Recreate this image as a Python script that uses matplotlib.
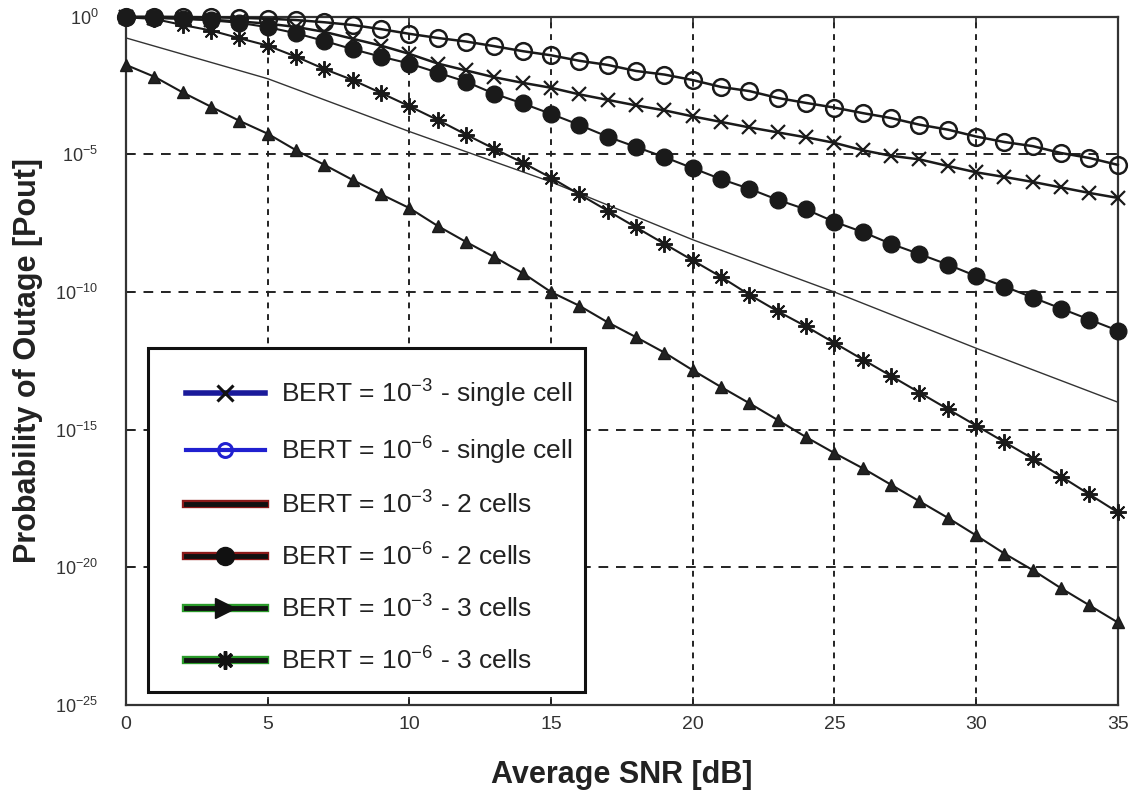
import numpy as np
import matplotlib
matplotlib.use("Agg")
import matplotlib.pyplot as plt
from matplotlib.lines import Line2D
from matplotlib.patches import Rectangle
from matplotlib.legend_handler import HandlerTuple

plt.rcParams['font.family'] = ['Liberation Sans', 'DejaVu Sans']

# average SNR [dB], one marker per dB
snr = np.arange(0, 36)

# log10 of outage probability
log_single_e3 = [-0.02, -0.04, -0.07, -0.11, -0.17, -0.25, -0.37, -0.55, -0.8, -1.05,
                 -1.35, -1.7, -1.95, -2.2, -2.4, -2.58, -2.82, -3.02, -3.22, -3.4,
                 -3.62, -3.82, -4.02, -4.2, -4.38, -4.58, -4.85, -5.05, -5.18, -5.42,
                 -5.65, -5.82, -6.0, -6.2, -6.4, -6.58]
log_single_e6 = [0.0, 0.0, -0.01, -0.02, -0.04, -0.07, -0.12, -0.2, -0.3, -0.45,
                 -0.62, -0.77, -0.9, -1.07, -1.25, -1.4, -1.6, -1.75, -1.97, -2.1,
                 -2.3, -2.55, -2.7, -2.95, -3.13, -3.3, -3.5, -3.68, -3.92, -4.1,
                 -4.35, -4.55, -4.7, -4.95, -5.13, -5.38]
snr_line = [0, 5, 10, 15, 20, 25, 30, 35]
log_two_e3 = [-0.77, -2.25, -4.17, -6.0, -8.1, -10.0, -12.04, -14.0]
log_two_e6 = [0.0, -0.03, -0.07, -0.13, -0.22, -0.38, -0.6, -0.88, -1.18, -1.45,
              -1.7, -2.03, -2.36, -2.8, -3.15, -3.53, -3.93, -4.36, -4.73, -5.1,
              -5.5, -5.9, -6.25, -6.65, -7.0, -7.45, -7.82, -8.25, -8.62, -9.0,
              -9.42, -9.8, -10.2, -10.6, -11.0, -11.4]
log_three_e3 = [-1.75, -2.18, -2.75, -3.27, -3.78, -4.25, -4.85, -5.38, -5.93, -6.45,
                -6.95, -7.6, -8.18, -8.73, -9.31, -10.0, -10.5, -11.1, -11.64, -12.2,
                -12.84, -13.45, -14.04, -14.65, -15.27, -15.85, -16.4, -17.0, -17.6, -18.2,
                -18.84, -19.5, -20.1, -20.76, -21.38, -22.0]
log_three_e6 = [-0.02, -0.08, -0.3, -0.5, -0.78, -1.05, -1.45, -1.9, -2.3, -2.77,
                -3.25, -3.75, -4.28, -4.8, -5.3, -5.85, -6.45, -7.05, -7.65, -8.25,
                -8.85, -9.45, -10.1, -10.7, -11.25, -11.85, -12.45, -13.05, -13.65, -14.25,
                -14.85, -15.45, -16.05, -16.7, -17.35, -18.0]

labels = [r'BERT = $\mathregular{10^{-3}}$ - single cell',
          r'BERT = $\mathregular{10^{-6}}$ - single cell',
          r'BERT = $\mathregular{10^{-3}}$ - 2 cells',
          r'BERT = $\mathregular{10^{-6}}$ - 2 cells',
          r'BERT = $\mathregular{10^{-3}}$ - 3 cells',
          r'BERT = $\mathregular{10^{-6}}$ - 3 cells']

xticks = [0, 5, 10, 15, 20, 25, 30, 35]
yticks = [1e0, 1e-5, 1e-10, 1e-15, 1e-20, 1e-25]
ytick_labels = [r'$\mathregular{10^{0}}$', r'$\mathregular{10^{-5}}$', r'$\mathregular{10^{-10}}$',
                r'$\mathregular{10^{-15}}$', r'$\mathregular{10^{-20}}$', r'$\mathregular{10^{-25}}$']

fig = plt.figure(figsize=(11.36, 7.98), dpi=100)
ax = fig.add_axes([0.111, 0.1165, 0.873, 0.8625])

star = (8, 2, 0)
kw = dict(color='#1a1a1a', clip_on=False, zorder=3)
ax.semilogy(snr, 10.0 ** np.array(log_single_e6), marker='o', ms=12, mfc='none', mew=1.8, lw=1.8, **kw)
ax.semilogy(snr, 10.0 ** np.array(log_single_e3), marker='x', ms=10, mew=1.6, lw=1.8, **kw)
ax.semilogy(snr_line, 10.0 ** np.array(log_two_e3), lw=1.0, color='#333333', clip_on=False, zorder=3)
ax.semilogy(snr, 10.0 ** np.array(log_two_e6), marker='o', ms=12, mfc='#1a1a1a', lw=1.5, **kw)
ax.semilogy(snr, 10.0 ** np.array(log_three_e6), marker=star, ms=12, mew=1.4, lw=1.5, **kw)
ax.semilogy(snr, 10.0 ** np.array(log_three_e3), marker='^', ms=9, mfc='#222222', lw=1.5, **kw)

ax.set_xlim(0, 35)
ax.set_ylim(1e-25, 1e0)
ax.set_xticks(xticks)
ax.set_yticks(yticks)
ax.set_yticklabels(ytick_labels)
ax.yaxis.set_minor_locator(matplotlib.ticker.NullLocator())
ax.tick_params(direction='in', top=True, right=True, length=6, width=1.2, colors='#222222')
ax.tick_params(axis='y', labelsize=13, pad=20, labelcolor='#333333')
ax.tick_params(axis='x', labelsize=14, pad=8, labelcolor='#333333')

ax.grid(True, axis='y', which='major', color='#222222', linestyle=(0, (5, 4)), lw=1.4)
ax.grid(True, axis='x', which='major', color='#222222', linestyle=(0, (3, 3)), lw=1.4)
for s in ax.spines.values():
    s.set_color('#333333')
    s.set_linewidth(1.6)

ax.set_xlabel('Average SNR [dB]', fontsize=22, fontweight='bold', color='#222222', va='center')
ax.set_ylabel('Probability of Outage [Pout]', fontsize=22, fontweight='bold', color='#222222', va='center')
ax.xaxis.set_label_coords(0.5, -0.102)
ax.yaxis.set_label_coords(-0.099, 0.5)

# legend: box drawn by hand, colours as in the original legend
ax.add_patch(Rectangle((0.022, 0.019), 0.441, 0.5, transform=ax.transAxes,
                       fc='white', ec='#111111', lw=2.2, zorder=6, clip_on=False))
red, green, blue = '#8b1a1a', '#2a9a2a', '#2020d0'
handles = [
    (Line2D([], [], color='#1a1a9a', lw=4), Line2D([], [], ls='none', marker='x', ms=12, mew=2.2, color='#111111')),
    (Line2D([], [], color=blue, lw=3, marker='o', ms=10, mfc='none', mew=2.2),),
    (Line2D([], [], color=red, lw=6), Line2D([], [], color='#111111', lw=3.5)),
    (Line2D([], [], color=red, lw=6), Line2D([], [], color='#111111', lw=3.5, marker='o', ms=13, mfc='#111111')),
    (Line2D([], [], color=green, lw=6), Line2D([], [], color='#111111', lw=3.5, marker='>', ms=15, mfc='#111111')),
    (Line2D([], [], color=green, lw=6), Line2D([], [], color='#111111', lw=3.5, marker=star, ms=13, mew=2.5)),
]
leg = ax.legend(handles, labels, loc='upper left', bbox_to_anchor=(0.06, 0.476), borderpad=0,
                borderaxespad=0, frameon=False, fontsize=19, labelspacing=0.94, handlelength=3.0,
                handletextpad=0.6, handler_map={tuple: HandlerTuple(ndivide=1)})
leg.set_zorder(7)
for t in leg.get_texts():
    t.set_color('#222222')

fig.savefig('out.png', dpi=100, facecolor='white')
